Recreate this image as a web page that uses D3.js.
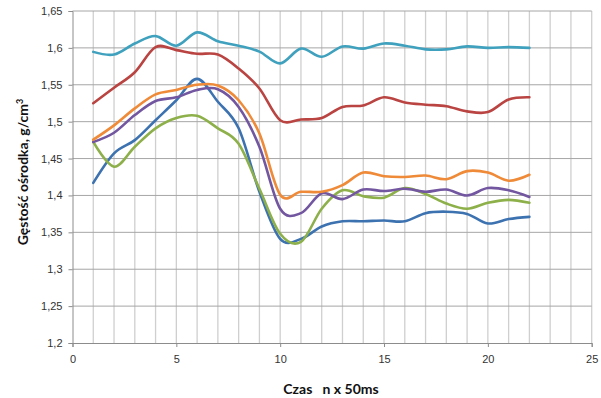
<!DOCTYPE html>
<html><head><meta charset="utf-8">
<script src="https://cdn.jsdelivr.net/npm/d3@7/dist/d3.min.js"></script>
<style>body{margin:0;background:#fff}svg{display:block}</style>
</head><body>
<svg id="c" width="601" height="398"></svg>
<script>
const xValues = [1,2,3,4,5,6,7,8,9,10,11,12,13,14,15,16,17,18,19,20,21,22];
const blue   = [1.417,1.457,1.475,1.502,1.529,1.558,1.527,1.491,1.405,1.341,1.341,1.358,1.365,1.365,1.366,1.365,1.376,1.378,1.375,1.362,1.368,1.371];
const red    = [1.525,1.546,1.567,1.601,1.597,1.592,1.591,1.572,1.545,1.502,1.503,1.505,1.520,1.522,1.533,1.526,1.523,1.521,1.514,1.513,1.530,1.533];
const green  = [1.4725,1.439,1.466,1.491,1.505,1.508,1.491,1.470,1.409,1.348,1.337,1.382,1.407,1.399,1.397,1.410,1.402,1.389,1.382,1.390,1.394,1.390];
const purple = [1.4725,1.485,1.509,1.528,1.533,1.543,1.544,1.520,1.466,1.382,1.376,1.403,1.395,1.408,1.406,1.409,1.405,1.408,1.400,1.410,1.407,1.398];
const teal   = [1.5946,1.591,1.606,1.616,1.603,1.621,1.609,1.603,1.595,1.579,1.599,1.588,1.602,1.599,1.606,1.603,1.598,1.598,1.602,1.600,1.601,1.600];
const orange = [1.4756,1.495,1.518,1.537,1.543,1.550,1.549,1.529,1.484,1.401,1.405,1.405,1.414,1.431,1.426,1.425,1.427,1.422,1.433,1.431,1.420,1.428];
const seriesList = [blue, red, green, purple, teal, orange];
const seriesColors = ["#3d72b0","#b94441","#8db04a","#7256a0","#3fa1bd","#ee8a38"];
const yTicks = [1.2,1.25,1.3,1.35,1.4,1.45,1.5,1.55,1.6,1.65];
const xTicks = [0,5,10,15,20,25];

const svg = d3.select("#c");
const x = d3.scaleLinear().domain([0,25]).range([72.5,591.7]);
const y = d3.scaleLinear().domain([1.2,1.65]).range([343,11]);
const fmt = v => String(+v.toFixed(2)).replace(".", ",");

svg.append("g").selectAll("line").data(d3.range(1,26)).join("line")
  .attr("x1", d=>x(d)).attr("x2", d=>x(d)).attr("y1", y(1.65)).attr("y2", y(1.2))
  .attr("stroke", "#cfcfcf").attr("stroke-width", 1.3);
svg.append("g").selectAll("line").data(yTicks.slice(1)).join("line")
  .attr("x1", x(0)).attr("x2", x(25)).attr("y1", d=>y(d)).attr("y2", d=>y(d))
  .attr("stroke", "#a6a6a6").attr("stroke-width", 1);

const gx = svg.append("g").attr("transform", `translate(0,${y(1.2)})`)
  .call(d3.axisBottom(x).tickValues(xTicks).tickSize(4).tickPadding(8).tickFormat(d=>d));
gx.select(".domain").attr("stroke", "#8c8c8c");
gx.selectAll(".tick line").attr("stroke", "#8c8c8c");
gx.selectAll("text").attr("font-family","Liberation Sans, Arial, sans-serif").attr("font-size", 11).attr("fill","#333");

const gy = svg.append("g").attr("transform", `translate(${x(0)},0)`)
  .call(d3.axisLeft(y).tickValues(yTicks).tickSize(4).tickPadding(6).tickFormat(fmt));
gy.select(".domain").attr("stroke", "#8c8c8c");
gy.selectAll(".tick line").attr("stroke", "#8c8c8c");
gy.selectAll("text").attr("font-family","Liberation Sans, Arial, sans-serif").attr("font-size", 11).attr("fill","#333");

const line = d3.line().x((d,i)=>x(xValues[i])).y(d=>y(d)).curve(d3.curveCardinal.tension(0));
svg.append("g").selectAll("path").data(seriesList).join("path")
  .attr("d", d=>line(d)).attr("fill","none")
  .attr("stroke", (d,i)=>seriesColors[i]).attr("stroke-width", 2.6)
  .attr("stroke-linejoin","round").attr("stroke-linecap","round");

svg.append("text").attr("x", 331).attr("y", 394).attr("text-anchor","middle")
  .attr("font-family","Lato, Open Sans, sans-serif").attr("font-weight","bold")
  .attr("font-size", 14).attr("fill","#111").attr("xml:space","preserve")
  .text("Czas   n x 50ms");
const yt = svg.append("text").attr("transform","translate(28,172) rotate(-90)").attr("text-anchor","middle")
  .attr("font-family","Lato, Open Sans, sans-serif").attr("font-weight","bold")
  .attr("font-size", 14).attr("fill","#111");
yt.append("tspan").text("Gęstość ośrodka, g/cm");
yt.append("tspan").attr("dy",-5).attr("font-size",9).text("3");
</script>
</body></html>
